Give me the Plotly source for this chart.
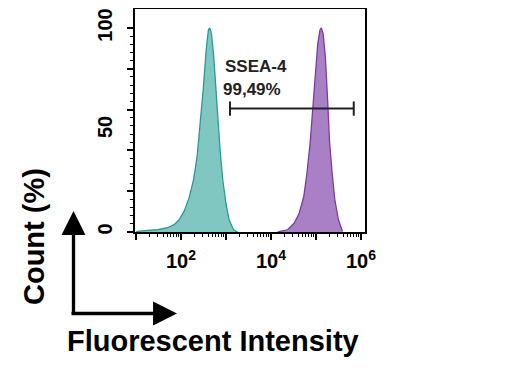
import plotly.graph_objects as go

# ---- data ----
# log10 of fluorescent intensity, and normalised count (%)
teal_log_intensity = [1.00, 1.04, 1.26, 1.48, 1.70, 1.85, 1.96, 2.07, 2.18, 2.28, 2.36, 2.43, 2.50,
                      2.56, 2.61, 2.64, 2.68, 2.73, 2.77, 2.82, 2.87, 2.93, 3.00, 3.07, 3.17, 3.26]
teal_count = [0.0, 0.3, 0.8, 1.1, 2.1, 3.6, 6.0, 10.1, 16.6, 25.5, 36.9, 53.2, 71.1,
              88.9, 99.0, 100.0, 97.1, 85.7, 71.1, 56.4, 40.2, 25.5, 14.1, 6.0, 1.1, 0.0]

purple_log_intensity = [4.15, 4.37, 4.52, 4.63, 4.73, 4.80, 4.87, 4.93, 4.98, 5.04, 5.09, 5.12,
                        5.16, 5.21, 5.26, 5.30, 5.36, 5.42, 5.50, 5.59]
purple_count = [0.0, 1.1, 4.4, 9.3, 17.4, 28.8, 43.4, 59.7, 77.6, 92.2, 99.0, 100.0,
                97.1, 85.7, 64.6, 45.0, 28.8, 15.8, 6.0, 0.3]

gate_log_range = [3.09, 5.84]
gate_level = 60.5
gate_label = "SSEA-4"
gate_percent = "99,49%"

x_tick_exponents = [1, 2, 3, 4, 5, 6]
x_tick_labels = ["", "10<sup>2</sup>", "", "10<sup>4</sup>", "", "10<sup>6</sup>"]
y_label_vals = [0, 50, 100]
y_label_text = ["0", "50", "100"]

# ---- figure ----
FONT = "Arial, Liberation Sans, sans-serif"
teal_x = [10 ** v for v in teal_log_intensity]
purple_x = [10 ** v for v in purple_log_intensity]

fig = go.Figure()
fig.add_trace(go.Scatter(x=teal_x, y=teal_count, mode="lines", fill="tozeroy",
                         line=dict(color="#2A9A92", width=1.3), fillcolor="#80C7C2",
                         hoverinfo="skip", showlegend=False))
fig.add_trace(go.Scatter(x=purple_x, y=purple_count, mode="lines", fill="tozeroy",
                         line=dict(color="#7A3D9E", width=1.3), fillcolor="#A97FC5",
                         hoverinfo="skip", showlegend=False))

# gate bar with end caps
g0, g1 = 10 ** gate_log_range[0], 10 ** gate_log_range[1]
cap = 3.5
fig.add_trace(go.Scatter(
    x=[g0, g1, None, g0, g0, None, g1, g1],
    y=[gate_level, gate_level, None, gate_level - cap, gate_level + cap, None,
       gate_level - cap, gate_level + cap],
    mode="lines", line=dict(color="#222222", width=2), hoverinfo="skip", showlegend=False))

# invisible trace for label axis
fig.add_trace(go.Scatter(x=[10 ** 3], y=[50], yaxis="y2", mode="markers",
                         marker=dict(opacity=0), hoverinfo="skip", showlegend=False))

x_minor = [m * 10 ** e for e in range(1, 7) for m in range(2, 10)]
yr = [0, 109.3]

# page is drawn with an 8px body offset; plot area spans page x 135..365, y 9..232
PL, PT, PW, PH = 135, 9, 230, 223


def px(x):
    return (x - PL) / PW


def py(y):
    return (PT + PH - y) / PH


fig.update_layout(
    width=507, height=376,
    margin=dict(l=127, r=150, t=1, b=152, autoexpand=False),
    paper_bgcolor="white", plot_bgcolor="white",
    xaxis=dict(type="log", range=[0.98, 6.09], showline=True, mirror=True, automargin=False,
               linecolor="black", linewidth=2, showgrid=False, zeroline=False,
               tickvals=[10 ** e for e in x_tick_exponents], ticktext=x_tick_labels,
               ticks="outside", ticklen=6, tickwidth=2, tickcolor="black",
               tickangle=0, ticklabelstandoff=4,
               tickfont=dict(family=FONT, size=20, color="black", weight="bold"),
               minor=dict(tickvals=x_minor, ticks="outside", ticklen=3, tickwidth=1,
                          tickcolor="black", showgrid=False)),
    yaxis=dict(range=yr, showline=True, mirror=True, linecolor="black", linewidth=2,
               showgrid=False, zeroline=False, tickvals=[0, 20, 40, 60, 80, 100],
               showticklabels=False, ticks="outside", ticklen=6, tickwidth=2,
               tickcolor="black", automargin=False,
               minor=dict(tickvals=list(range(0, 101, 4)), ticks="outside", ticklen=3,
                          tickwidth=1, tickcolor="black", showgrid=False)),
    yaxis2=dict(range=yr, overlaying="y", side="left", anchor="x", showline=False,
                showgrid=False, zeroline=False, tickvals=y_label_vals, ticktext=y_label_text,
                ticks="", tickangle=-90, ticklabelstandoff=18, automargin=False,
                tickfont=dict(family=FONT, size=20, color="black", weight="bold")),
    annotations=[
        dict(x=2.93, y=81, xref="x", yref="y", text=gate_label, showarrow=False,
             xanchor="left", yanchor="middle",
             font=dict(family=FONT, size=17, color="#222222", weight="bold")),
        dict(x=2.89, y=70, xref="x", yref="y", text=gate_percent, showarrow=False,
             xanchor="left", yanchor="middle",
             font=dict(family=FONT, size=17, color="#222222", weight="bold")),
        # axis arrows
        dict(x=px(73.5), y=py(211), xref="paper", yref="paper",
             text="", showarrow=True, ax=0, ay=104, axref="pixel", ayref="pixel",
             arrowhead=2, arrowsize=1.45, arrowwidth=3.3, arrowcolor="black"),
        dict(x=px(177), y=py(313.5), xref="paper", yref="paper",
             text="", showarrow=True, ax=-107, ay=0, axref="pixel", ayref="pixel",
             arrowhead=2, arrowsize=1.45, arrowwidth=3.3, arrowcolor="black"),
        dict(x=px(34), y=py(237), xref="paper", yref="paper",
             text="Count (%)", showarrow=False, textangle=-90,
             xanchor="center", yanchor="middle",
             font=dict(family=FONT, size=29, color="black", weight="bold")),
        dict(x=px(213), y=py(341), xref="paper", yref="paper",
             text="Fluorescent Intensity", showarrow=False,
             xanchor="center", yanchor="middle",
             font=dict(family=FONT, size=29, color="black", weight="bold")),
    ],
)

fig.write_html("out.html")
